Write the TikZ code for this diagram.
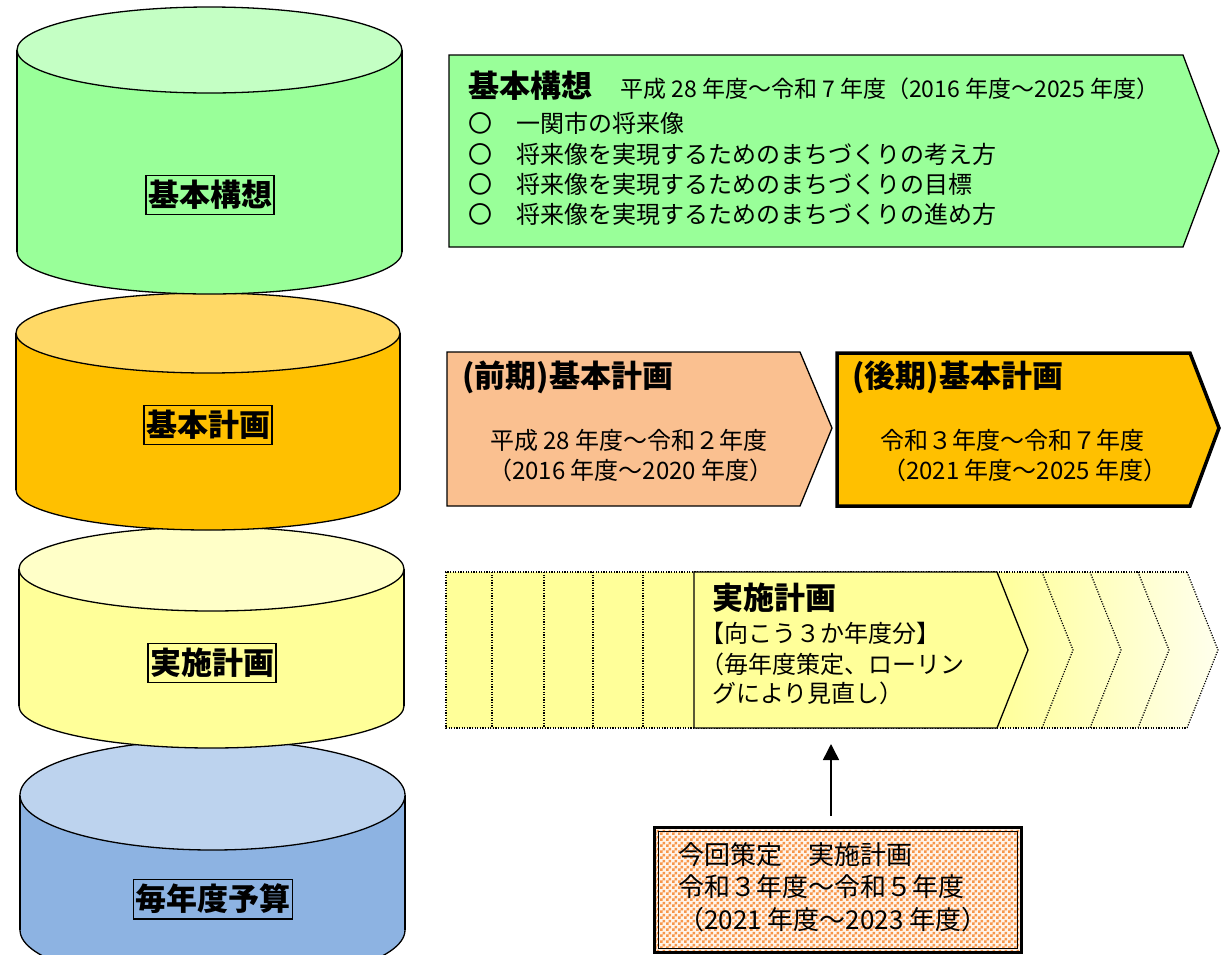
\documentclass[tikz,border=0pt]{standalone}
\usepackage{fontspec}
\setmainfont{Noto Sans CJK JP}
\usetikzlibrary{arrows.meta,patterns}
\pgfdeclarepatternformonly{bigchecker}{\pgfpointorigin}{\pgfqpoint{6pt}{6pt}}{\pgfqpoint{6pt}{6pt}}{%
  \pgfpathrectangle{\pgfpointorigin}{\pgfqpoint{3pt}{3pt}}%
  \pgfpathrectangle{\pgfqpoint{3pt}{3pt}}{\pgfqpoint{3pt}{3pt}}%
  \pgfusepath{fill}}
\definecolor{cgreen}{HTML}{99FF99}
\definecolor{cgreentop}{HTML}{C4FFC4}
\definecolor{corange}{HTML}{FFC000}
\definecolor{corangetop}{HTML}{FFD966}
\definecolor{cyellow}{HTML}{FFFF99}
\definecolor{cyellowtop}{HTML}{FFFFC8}
\definecolor{cblue}{HTML}{8DB3E2}
\definecolor{cbluetop}{HTML}{BDD3EE}
\definecolor{csalmon}{HTML}{FAC090}
\definecolor{cchk}{HTML}{F7964A}
\definecolor{cchkbase}{HTML}{FFF4EA}
\newcommand\mycyl[8]{%
  \fill[#7] (#1-#2,#3) rectangle (#1+#2,#4);
  \fill[#7] (#1,#4) ellipse[x radius=#2, y radius=#6];
  \begin{scope}
    \clip (#1-#2-5,#4) rectangle (#1+#2+5,#4+#6+5);
    \draw[cylline] (#1,#4) ellipse[x radius=#2, y radius=#6];
  \end{scope}
  \draw[cylline] (#1-#2,#3) -- (#1-#2,#4) (#1+#2,#3) -- (#1+#2,#4);
  \filldraw[cylline, fill=#8] (#1,#3) ellipse[x radius=#2, y radius=#5];
}
\begin{document}
\begin{tikzpicture}[x=1pt,y=-1pt,
  cylline/.style={draw=black, line width=1.3pt},
  cyllabel/.style={draw=black, line width=1.1pt, inner xsep=2pt, inner ysep=5pt,
     font=\bfseries\fontsize{31}{31}\selectfont},
  chev/.style={draw=black, line width=1.3pt, line join=miter},
  dotline/.style={draw=black, line width=1.2pt, dash pattern=on 1.2pt off 1.4pt},
  head/.style={inner sep=0pt, anchor=base west, font=\bfseries\fontsize{31}{31}\selectfont},
  txt/.style={inner sep=0pt, anchor=base west, font=\fontsize{24}{24}\selectfont},
  smalltxt/.style={inner sep=0pt, anchor=base west, font=\fontsize{23}{23}\selectfont},
  boxtxt/.style={inner sep=0pt, anchor=base west, font=\fontsize{26}{26}\selectfont}]
\useasboundingbox (0,0) rectangle (1227,954);
\clip (0,0) rectangle (1227,954);
\fill[white] (0,0) rectangle (1227,954);

% cylinders (bottom first)
\mycyl{212.5}{192.5}{795}{930}{55}{55}{cblue}{cbluetop}
\mycyl{211.5}{192.5}{569}{706}{42}{42}{cyellow}{cyellowtop}
\mycyl{208}{192}{333}{490}{40}{40}{corange}{corangetop}
\mycyl{209.5}{192.5}{50}{252}{43}{42}{cgreen}{cgreentop}

\node[cyllabel] (lab1) at (210,195) {基本構想};
\node[cyllabel] (lab2) at (208,425) {基本計画};
\node[cyllabel] (lab3) at (212,663) {実施計画};
\node[cyllabel] (lab4) at (213,899) {毎年度予算};

% row 1 : basic concept
\filldraw[chev, fill=cgreen] (449,55) -- (1183,55) -- (1219,151) -- (1183,247) -- (449,247) -- cycle;
\node[head] (h1) at (468,97) {基本構想};
\node[smalltxt] (y1) at (620,97) {平成 28 年度〜令和 7 年度（2016 年度〜2025 年度）};
\node[txt] (l1) at (468,132) {〇　一関市の将来像};
\node[txt] (l2) at (468,163) {〇　将来像を実現するためのまちづくりの考え方};
\node[txt] (l3) at (468,193) {〇　将来像を実現するためのまちづくりの目標};
\node[txt] (l4) at (468,223) {〇　将来像を実現するためのまちづくりの進め方};

% row 2 : basic plans
\filldraw[chev, fill=csalmon] (447,352) -- (800,352) -- (832,428) -- (800,506) -- (447,506) -- cycle;
\node[head] (h2a) at (462,387) {(前期)基本計画};
\node[txt] (a1) at (490,449) {平成 28 年度〜令和２年度};
\node[txt] (a2) at (488,479) {（2016 年度〜2020 年度）};

\filldraw[chev, line width=3.5pt, fill=corange] (837,353) -- (1190,353) -- (1219,428) -- (1190,506) -- (837,506) -- cycle;
\node[head] (h2b) at (852,387) {(後期)基本計画};
\node[txt] (b1) at (880,449) {令和３年度〜令和７年度};
\node[txt] (b2) at (882,479) {（2021 年度〜2025 年度）};

% row 3 : implementation plan
\fill[cyellow] (446,572) rectangle (700,728);
\shade[left color=cyellow, right color=cyellow!18] (995,572) -- (1187,572) -- (1218,650) -- (1187,728) -- (995,728) -- cycle;
\foreach \xx in {492,544,593,643} {\draw[dotline] (\xx,572) -- (\xx,728);}
\draw[dotline] (1187,572) -- (446,572) -- (446,728) -- (1187,728);
\foreach \xx in {1042,1090,1138,1187} {\draw[dotline] (\xx,572) -- (\xx+31,650) -- (\xx,728);}
\filldraw[chev, fill=cyellow] (694,572) -- (997,572) -- (1028,650) -- (997,728) -- (694,728) -- cycle;
\node[head] (h3) at (712,609) {実施計画};
\node[txt] (c1) at (700,642) {【向こう３か年度分】};
\node[txt] (c2) at (700,673) {（毎年度策定、ローリン};
\node[txt] (c3) at (712,702) {グにより見直し）};

% bottom box
\node[draw=black, line width=2.5pt, anchor=north west, minimum width=367pt, minimum height=125pt,
      inner sep=0pt, preaction={fill=cchkbase}, pattern=bigchecker, pattern color=cchk] (nb) at (653,826) {};
\draw[black, line width=1pt] ([shift={(5,5)}]nb.north west) rectangle ([shift={(-5,-5)}]nb.south east);
\node[boxtxt] (d1) at (678,864) {今回策定　実施計画};
\node[boxtxt] (d2) at (678,896) {令和３年度〜令和５年度};
\node[boxtxt] (d3) at (678,929) {（2021 年度〜2023 年度）};

\coordinate (arS) at (831,816);
\coordinate (arE) at (831,744);
\draw[line width=1.5pt, -{Triangle[length=16pt,width=16pt]}] (arS) -- (arE);
\end{tikzpicture}
\end{document}
